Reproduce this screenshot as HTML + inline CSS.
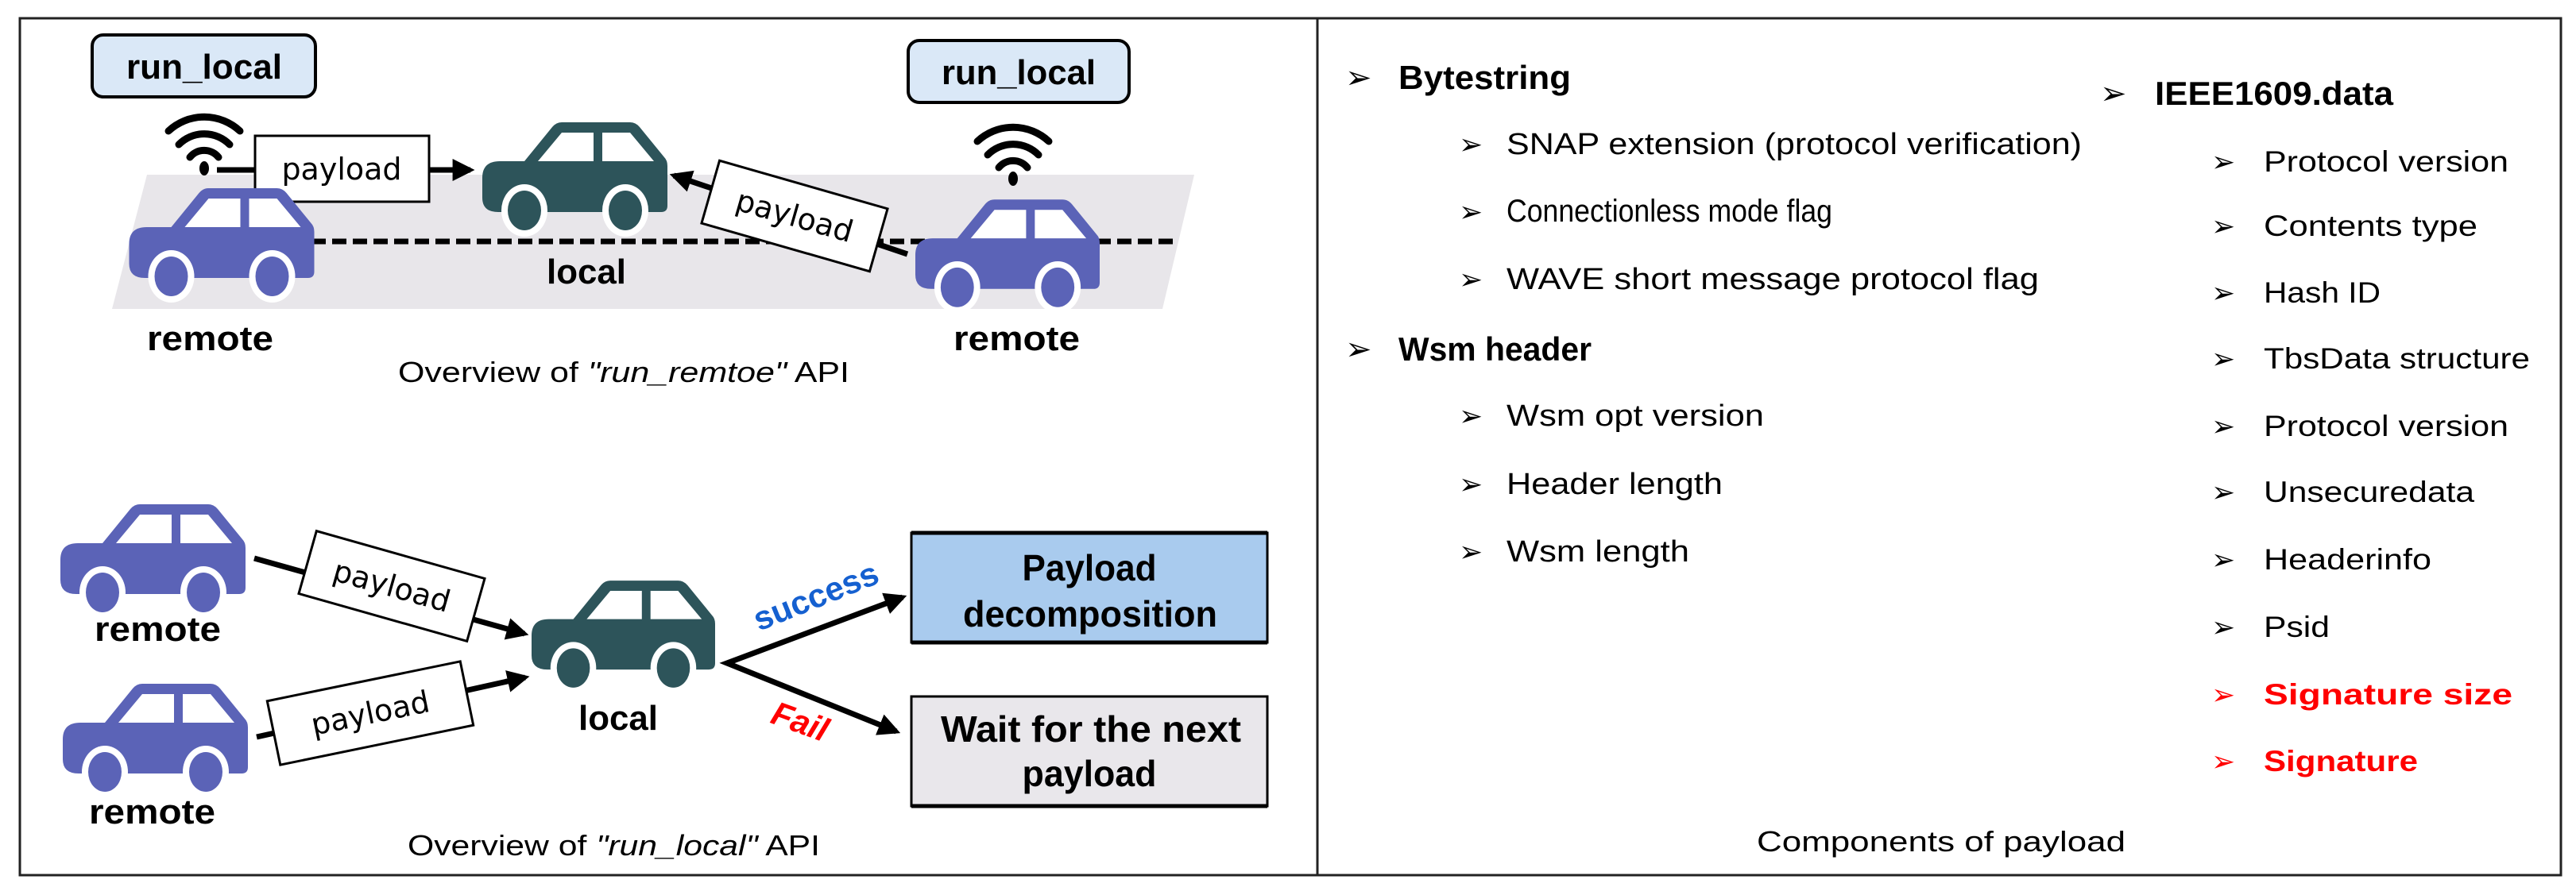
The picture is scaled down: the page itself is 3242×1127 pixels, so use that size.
<!DOCTYPE html>
<html><head><meta charset="utf-8"><style>
html,body{margin:0;padding:0;background:#fff;}
svg{display:block}
text{font-family:"Liberation Sans","Noto Sans CJK KR",sans-serif;}
.pl{font-family:"DejaVu Sans",sans-serif;font-size:38px;}
.b{font-weight:bold;}
</style></head><body>
<svg width="3242" height="1127" viewBox="0 0 3242 1127" xmlns="http://www.w3.org/2000/svg">
<defs>
<symbol id="car" viewBox="0 0 233 136" overflow="visible">
<path d="M53,49 L88,6 Q93,0 100,0 L186,0 Q193,0 198,6 L229,44 Q233,48 233,55 L233,105 Q233,113 225,113 L20,113 Q0,113 0,95 L0,70 Q0,49 22,49 Z"/>
<path d="M70,49 L100,13 L140,13 L140,49 Z M151,13 L186,13 L216,49 L151,49 Z" fill="#fff"/>
<ellipse cx="53" cy="111" rx="29" ry="33" fill="#fff"/>
<ellipse cx="180" cy="111" rx="29" ry="33" fill="#fff"/>
<ellipse cx="53" cy="111" rx="21" ry="25"/>
<ellipse cx="180" cy="111" rx="21" ry="25"/>
</symbol>
<marker id="ah" viewBox="0 0 10 10" refX="8" refY="5" markerWidth="4" markerHeight="4" orient="auto-start-reverse"><path d="M0,0 L10,5 L0,10 Z" fill="#000"/></marker>
<symbol id="wifi" viewBox="-70 -70 140 140" overflow="visible">
<g fill="none" stroke="#000" stroke-width="9" stroke-linecap="round">
<path d="M-18,-14 A23,23 0 0 1 18,-14"/>
<path d="M-32,-30 A45,45 0 0 1 32,-30"/>
<path d="M-45,-47 A66,66 0 0 1 45,-47"/>
</g>
<ellipse cx="0" cy="0" rx="6" ry="9" fill="#000"/>
</symbol>
</defs>

<rect x="25" y="23" width="3198" height="1079" fill="none" stroke="#222" stroke-width="3"/>
<line x1="1658" y1="23" x2="1658" y2="1102" stroke="#222" stroke-width="3"/>

<polygon points="185,220 1503,220 1463,389 141,389" fill="#e8e6ea"/>
<line x1="392" y1="304" x2="1482" y2="304" stroke="#000" stroke-width="7" stroke-dasharray="18,8"/>

<rect x="116" y="44" width="281" height="78" rx="14" fill="#dae8f7" stroke="#000" stroke-width="4"/>
<text x="159" y="99" class="b" font-size="44" textLength="196" lengthAdjust="spacingAndGlyphs">run_local</text>
<rect x="1143" y="51" width="278" height="78" rx="14" fill="#dae8f7" stroke="#000" stroke-width="4"/>
<text x="1185" y="106" class="b" font-size="44" textLength="194" lengthAdjust="spacingAndGlyphs">run_local</text>

<use href="#wifi" x="187" y="142" width="140" height="140"/>
<use href="#wifi" x="1205" y="155" width="140" height="140"/>

<line x1="273" y1="214" x2="592" y2="214" stroke="#000" stroke-width="7" marker-end="url(#ah)"/>
<rect x="321" y="171" width="219" height="83" fill="#fff" stroke="#000" stroke-width="3"/>
<text x="430" y="226" text-anchor="middle" class="pl">payload</text>

<use href="#car" x="607" y="154" width="233" height="136" fill="#2d545a"/>
<use href="#car" x="161" y="237" width="236" height="136" fill="#5b63b7"/>
<use href="#car" x="1152" y="251" width="232" height="136" fill="#5b63b7"/>

<line x1="1142" y1="320" x2="848" y2="221" stroke="#000" stroke-width="7" marker-end="url(#ah)"/>
<g transform="translate(1000,272) rotate(16)">
<rect x="-110" y="-41" width="220" height="82" fill="#fff" stroke="#000" stroke-width="3"/>
<text x="0" y="13" text-anchor="middle" class="pl">payload</text>
</g>

<text x="688" y="357" class="b" font-size="44" textLength="100" lengthAdjust="spacingAndGlyphs">local</text>
<text x="185" y="441" class="b" font-size="44" textLength="159" lengthAdjust="spacingAndGlyphs">remote</text>
<text x="1200" y="441" class="b" font-size="44" textLength="159" lengthAdjust="spacingAndGlyphs">remote</text>
<text x="501" y="481" font-size="36" textLength="568" lengthAdjust="spacingAndGlyphs">Overview of <tspan font-style="italic">"run_remtoe"</tspan> API</text>

<use href="#car" x="76" y="634" width="233" height="138" fill="#5b63b7"/>
<use href="#car" x="79" y="860" width="233" height="138" fill="#5b63b7"/>
<use href="#car" x="669" y="730" width="231" height="137" fill="#2d545a"/>
<text x="119" y="807" class="b" font-size="44" textLength="159" lengthAdjust="spacingAndGlyphs">remote</text>
<text x="112" y="1037" class="b" font-size="44" textLength="159" lengthAdjust="spacingAndGlyphs">remote</text>
<text x="728" y="919" class="b" font-size="44" textLength="100" lengthAdjust="spacingAndGlyphs">local</text>

<line x1="320" y1="703" x2="660" y2="798" stroke="#000" stroke-width="7" marker-end="url(#ah)"/>
<g transform="translate(493,738) rotate(15.8)">
<rect x="-110" y="-41" width="220" height="82" fill="#fff" stroke="#000" stroke-width="3"/>
<text x="0" y="13" text-anchor="middle" class="pl">payload</text>
</g>
<line x1="323" y1="928" x2="661" y2="853" stroke="#000" stroke-width="7" marker-end="url(#ah)"/>
<g transform="translate(466,898) rotate(-11.6)">
<rect x="-124" y="-41" width="248" height="82" fill="#fff" stroke="#000" stroke-width="3"/>
<text x="0" y="13" text-anchor="middle" class="pl">payload</text>
</g>

<polyline points="1136,752 915,835 1128,921" fill="none" stroke="#000" stroke-width="7" marker-start="url(#ah)" marker-end="url(#ah)"/>
<text transform="translate(1032,764) rotate(-22)" text-anchor="middle" class="b" font-size="42" fill="#1560d0">success</text>
<text transform="translate(1002,922) rotate(20)" text-anchor="middle" class="b" font-size="42" font-style="italic" fill="#ff0000">Fail</text>

<rect x="1147" y="671" width="448" height="138" fill="#a9cbee" stroke="#000" stroke-width="3"/>
<line x1="1147" y1="671" x2="1595" y2="671" stroke="#000" stroke-width="5"/>
<line x1="1147" y1="809" x2="1595" y2="809" stroke="#000" stroke-width="5"/>
<text x="1371" y="731" text-anchor="middle" class="b" font-size="46" textLength="169" lengthAdjust="spacingAndGlyphs">Payload</text>
<text x="1372" y="789" text-anchor="middle" class="b" font-size="46" textLength="320" lengthAdjust="spacingAndGlyphs">decomposition</text>
<rect x="1147" y="877" width="448" height="138" fill="#e9e7eb" stroke="#000" stroke-width="3"/>
<line x1="1147" y1="1015" x2="1595" y2="1015" stroke="#000" stroke-width="5"/>
<text x="1373" y="934" text-anchor="middle" class="b" font-size="46" textLength="378" lengthAdjust="spacingAndGlyphs">Wait for the next</text>
<text x="1371" y="990" text-anchor="middle" class="b" font-size="46" textLength="169" lengthAdjust="spacingAndGlyphs">payload</text>

<text x="513" y="1077" font-size="36" textLength="519" lengthAdjust="spacingAndGlyphs">Overview of <tspan font-style="italic">"run_local"</tspan> API</text>

<g font-size="38">
<text x="1693" y="111" font-size="40">➢</text>
<text x="1760" y="112" class="b" font-size="42" textLength="217" lengthAdjust="spacingAndGlyphs">Bytestring</text>
<text x="1836" y="194" font-size="36">➢</text>
<text x="1896" y="194" textLength="724" lengthAdjust="spacingAndGlyphs">SNAP extension (protocol verification)</text>
<text x="1836" y="279" font-size="36">➢</text>
<text x="1896" y="279" font-size="40" textLength="410" lengthAdjust="spacingAndGlyphs"><tspan>Connectionless</tspan> <tspan>mode</tspan> <tspan>flag</tspan></text>
<text x="1836" y="364" font-size="36">➢</text>
<text x="1896" y="364" textLength="670" lengthAdjust="spacingAndGlyphs">WAVE short message protocol flag</text>

<text x="1693" y="453" font-size="40">➢</text>
<text x="1760" y="454" class="b" font-size="42" textLength="243" lengthAdjust="spacingAndGlyphs">Wsm header</text>
<text x="1836" y="536" font-size="36">➢</text>
<text x="1896" y="536" textLength="324" lengthAdjust="spacingAndGlyphs">Wsm opt version</text>
<text x="1836" y="622" font-size="36">➢</text>
<text x="1896" y="622" textLength="272" lengthAdjust="spacingAndGlyphs">Header length</text>
<text x="1836" y="707" font-size="36">➢</text>
<text x="1896" y="707" textLength="230" lengthAdjust="spacingAndGlyphs">Wsm length</text>

<text x="2643" y="131" font-size="40">➢</text>
<text x="2712" y="132" class="b" font-size="42" textLength="300" lengthAdjust="spacingAndGlyphs">IEEE1609.data</text>
<g font-size="37">
<text x="2783" y="216" font-size="36">➢</text>
<text x="2849" y="216" textLength="308" lengthAdjust="spacingAndGlyphs">Protocol version</text>
<text x="2783" y="297" font-size="36">➢</text>
<text x="2849" y="297" textLength="269" lengthAdjust="spacingAndGlyphs">Contents type</text>
<text x="2783" y="381" font-size="36">➢</text>
<text x="2849" y="381" textLength="147" lengthAdjust="spacingAndGlyphs">Hash ID</text>
<text x="2783" y="464" font-size="36">➢</text>
<text x="2849" y="464" textLength="335" lengthAdjust="spacingAndGlyphs">TbsData structure</text>
<text x="2783" y="549" font-size="36">➢</text>
<text x="2849" y="549" textLength="308" lengthAdjust="spacingAndGlyphs">Protocol version</text>
<text x="2783" y="632" font-size="36">➢</text>
<text x="2849" y="632" textLength="265" lengthAdjust="spacingAndGlyphs">Unsecuredata</text>
<text x="2783" y="717" font-size="36">➢</text>
<text x="2849" y="717" textLength="211" lengthAdjust="spacingAndGlyphs">Headerinfo</text>
<text x="2783" y="802" font-size="36">➢</text>
<text x="2849" y="802" textLength="83" lengthAdjust="spacingAndGlyphs">Psid</text>
<text x="2783" y="887" font-size="36" fill="#ff0000">➢</text>
<text x="2849" y="887" class="b" fill="#ff0000" textLength="313" lengthAdjust="spacingAndGlyphs">Signature size</text>
<text x="2783" y="971" font-size="36" fill="#ff0000">➢</text>
<text x="2849" y="971" class="b" fill="#ff0000" textLength="194" lengthAdjust="spacingAndGlyphs">Signature</text>
</g>
</g>
<text x="2211" y="1072" font-size="36" textLength="464" lengthAdjust="spacingAndGlyphs">Components of payload</text>
</svg>
</body></html>
